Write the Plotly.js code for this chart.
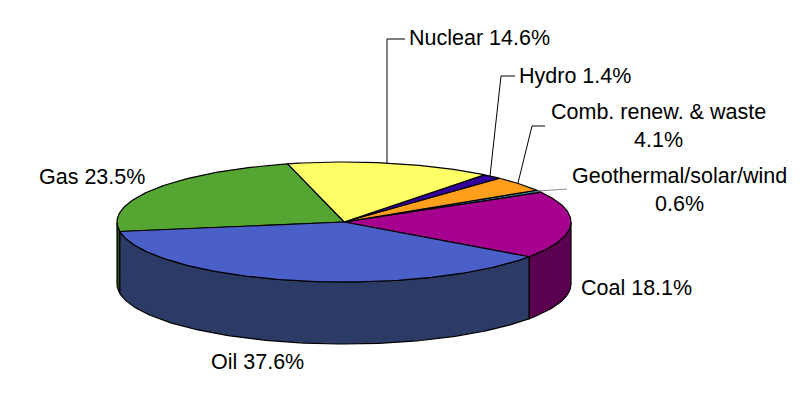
<!DOCTYPE html>
<html><head><meta charset="utf-8">
<script src="https://cdn.plot.ly/plotly-3.0.1.min.js"></script>
<style>html,body{margin:0;padding:0;background:#fff}#c{width:800px;height:400px}</style></head>
<body><div id="c"></div>
<script>
// Data: slices in the order they run counter-clockwise on screen
const names = ["Coal","Geothermal/solar/wind","Comb. renew. & waste","Hydro","Nuclear","Gas","Oil"];
const shares = [18.1,0.6,4.1,1.4,14.6,23.5,37.6];
const topColors = ["#A6008F","#3D7F9E","#FF9F1C","#330099","#FFFF66","#55A532","#4A60C8"];
const sideColors = ["#5C0050","#1F4050","#80500E","#1A004D","#808033","#2A5219","#2C3A66"];
const labels = ["Coal 18.1%","Geothermal/solar/wind<br>0.6%","Comb. renew. & waste<br>4.1%","Hydro 1.4%","Nuclear 14.6%","Gas 23.5%","Oil 37.6%"];

// Geometry of the tilted pie
const cx=344, cy=222, rx=227, ry=60, depth=62, startDeg=-35.4;
const leaders = [
  {xs:[538,567],ys:[191,189],c:"#8a8a8a"},
  {xs:[518,532,545],ys:[183,126,126],c:"#000"},
  {xs:[490,501,515],ys:[176,76,76],c:"#000"},
  {xs:[387,387,405],ys:[163,39,39],c:"#000"}
];
const labelPos = [
  [636,288],[679,190],[658,126],[575,76],[479,38],[92,177],[257,362]
];

const total = shares.reduce((a,b)=>a+b,0);
const px = d => cx+rx*Math.cos(d*Math.PI/180);
const py = (d,z=0) => cy-ry*Math.sin(d*Math.PI/180)+z;
const arc = (a,b,z=0) => { const n=Math.max(2,Math.ceil(Math.abs(b-a)));const X=[],Y=[];
  for(let i=0;i<=n;i++){const d=a+(b-a)*i/n;X.push(px(d));Y.push(py(d,z));} return [X,Y]; };

const line = {color:"#000",width:1.2};
const sides=[], tops=[];
let a=startDeg;
shares.forEach((v,i)=>{
  const b=a+v/total*360;
  // visible side wall: the part of the slice on the front half of the ellipse
  const ranges=[[a,Math.min(b,0)],[Math.max(a,180),Math.min(b,360)]];
  ranges.forEach(([s,e])=>{
    if(e>s){
      const [x1,y1]=arc(s,e),[x2,y2]=arc(e,s,depth);
      sides.push({type:"scatter",mode:"lines",x:[...x1,...x2,x1[0]],y:[...y1,...y2,y1[0]],fill:"toself",fillcolor:sideColors[i],line,hoverinfo:"skip",showlegend:false});
    }
  });
  const [tx,ty]=arc(a,b);
  tops.push({type:"scatter",mode:"lines",x:[cx,...tx,cx],y:[cy,...ty,cy],fill:"toself",fillcolor:topColors[i],line,name:names[i],hoverinfo:"name",showlegend:false});
  a=b;
});
const leaderTraces=leaders.map(l=>({type:"scatter",mode:"lines",x:l.xs,y:l.ys,line:{color:l.c,width:1},hoverinfo:"skip",showlegend:false}));

const annotations=labels.map((t,i)=>({x:labelPos[i][0],y:labelPos[i][1],xref:"x",yref:"y",text:t,showarrow:false,xanchor:"center",yanchor:"middle",align:"center",font:{family:"Liberation Sans, Arial, sans-serif",size:21.5,color:"#000"}}));

Plotly.newPlot("c",[...sides,...tops,...leaderTraces],{
  width:800,height:400,margin:{l:0,r:0,t:0,b:0},paper_bgcolor:"#fff",plot_bgcolor:"#fff",showlegend:false,
  xaxis:{range:[0,800],visible:false,fixedrange:true},
  yaxis:{range:[400,0],visible:false,fixedrange:true},
  annotations
},{displayModeBar:false,staticPlot:true});
</script></body></html>
